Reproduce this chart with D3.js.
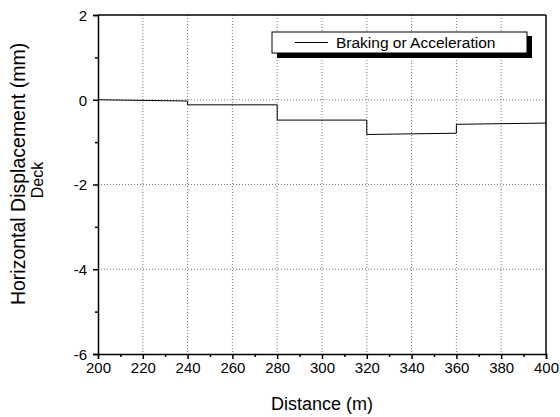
<!DOCTYPE html>
<html>
<head>
<meta charset="utf-8">
<script src="https://cdn.jsdelivr.net/npm/d3@7"></script>
<style>
  html, body { margin: 0; padding: 0; background: #fff; }
  svg { display: block; font-family: "Liberation Sans", Arial, sans-serif; }
</style>
</head>
<body>
<svg id="chart" width="560" height="417"></svg>
<script>
// Data
const distance     = [200, 240, 240, 280, 280, 320, 320, 360, 360, 400];
const displacement = [0.00, -0.03, -0.12, -0.12, -0.48, -0.48, -0.82, -0.79, -0.58, -0.55];
const xTicks = [200, 220, 240, 260, 280, 300, 320, 340, 360, 380, 400];
const xMinorTicks = [210, 230, 250, 270, 290, 310, 330, 350, 370, 390];
const yTicks = [-6, -4, -2, 0, 2];
const yMinorTicks = [-5, -3, -1, 1];
const seriesName = "Braking or Acceleration";
const xTitle = "Distance (m)";
const yTitle = "Horizontal Displacement (mm)";
const ySubTitle = "Deck";

const svg = d3.select("#chart");
const m = { left: 98, right: 546, top: 15, bottom: 354 };

const x = d3.scaleLinear().domain([200, 400]).range([m.left, m.right]);
const y = d3.scaleLinear().domain([-6, 2]).range([m.bottom, m.top]);

// grid
const grid = svg.append("g").attr("stroke", "#555").attr("stroke-width", 0.8)
  .attr("stroke-dasharray", "1,2");
grid.selectAll(".gx").data(xTicks.filter(d => d > 200 && d < 400)).enter().append("line")
  .attr("x1", d => x(d)).attr("x2", d => x(d))
  .attr("y1", m.top).attr("y2", m.bottom);
grid.selectAll(".gy").data(yTicks.filter(d => d > -6 && d < 2)).enter().append("line")
  .attr("y1", d => y(d)).attr("y2", d => y(d))
  .attr("x1", m.left).attr("x2", m.right);

// frame top / right
svg.append("line").attr("x1", m.left).attr("x2", m.right).attr("y1", m.top).attr("y2", m.top)
  .attr("stroke", "#000").attr("stroke-width", 1.5);
svg.append("line").attr("x1", m.right).attr("x2", m.right).attr("y1", m.top).attr("y2", m.bottom)
  .attr("stroke", "#000").attr("stroke-width", 1.5);

const fmt = d => String(d);

// axes
const xAxis = d3.axisBottom(x).tickValues(xTicks).tickSize(5).tickPadding(3).tickFormat(fmt);
const gx = svg.append("g").attr("transform", `translate(0,${m.bottom})`).call(xAxis);
const yAxis = d3.axisLeft(y).tickValues(yTicks).tickSize(5).tickPadding(6).tickFormat(fmt);
const gy = svg.append("g").attr("transform", `translate(${m.left},0)`).call(yAxis);

[gx, gy].forEach(g => {
  g.select(".domain").attr("stroke", "#000").attr("stroke-width", 1.5);
  g.selectAll(".tick line").attr("stroke", "#000").attr("stroke-width", 1.5);
  g.selectAll(".tick text").attr("fill", "#000").style("font-size", "15px")
    .style("font-family", "'Liberation Sans', Arial, sans-serif");
});
gy.selectAll(".tick text").attr("dy", "0.35em");

// minor ticks
const xMinor = d3.axisBottom(x).tickValues(xMinorTicks).tickSize(3).tickFormat("");
const gxm = svg.append("g").attr("transform", `translate(0,${m.bottom})`).call(xMinor);
const yMinor = d3.axisLeft(y).tickValues(yMinorTicks).tickSize(3).tickFormat("");
const gym = svg.append("g").attr("transform", `translate(${m.left},0)`).call(yMinor);
[gxm, gym].forEach(g => {
  g.select(".domain").remove();
  g.selectAll(".tick line").attr("stroke", "#000").attr("stroke-width", 1.5);
});

// series line
const pts = distance.map((d, i) => [d, displacement[i]]);
svg.append("path").datum(pts)
  .attr("fill", "none").attr("stroke", "#000").attr("stroke-width", 1)
  .attr("d", d3.line().x(d => x(d[0])).y(d => y(d[1])));

// legend
const lg = svg.append("g");
lg.append("rect").attr("x", 277).attr("y", 36).attr("width", 255).attr("height", 22).attr("fill", "#000");
lg.append("rect").attr("x", 272).attr("y", 32).attr("width", 255).attr("height", 21)
  .attr("fill", "#fff").attr("stroke", "#000").attr("stroke-width", 1);
lg.append("line").attr("x1", 295).attr("x2", 328).attr("y1", 42.5).attr("y2", 42.5)
  .attr("stroke", "#000").attr("stroke-width", 1);
lg.append("text").attr("x", 336).attr("y", 48).attr("fill", "#000")
  .style("font-size", "15.5px").text(seriesName);

// titles
svg.append("text").attr("x", (m.left + m.right) / 2).attr("y", 410).attr("text-anchor", "middle")
  .attr("fill", "#000").style("font-size", "18px").text(xTitle);
svg.append("text").attr("transform", "translate(25,174) rotate(-90)").attr("text-anchor", "middle")
  .attr("fill", "#000").style("font-size", "19.5px").text(yTitle);
svg.append("text").attr("transform", "translate(43,180) rotate(-90)").attr("text-anchor", "middle")
  .attr("fill", "#000").style("font-size", "16px").text(ySubTitle);
</script>
</body>
</html>
